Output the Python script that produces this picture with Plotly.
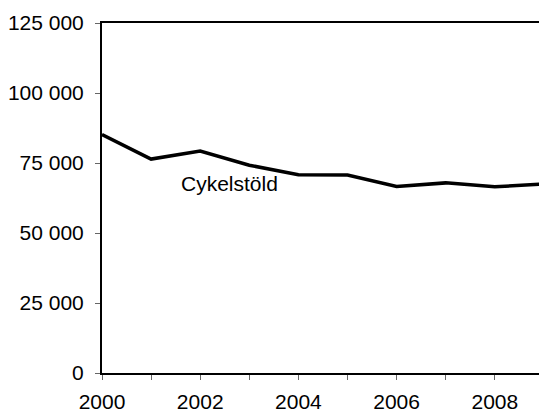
import plotly.graph_objects as go

years = [2000, 2001, 2002, 2003, 2004, 2005, 2006, 2007, 2008, 2009]
cykelstold = [85200, 76400, 79300, 74200, 70800, 70700, 66600, 67900, 66500, 67500]

y_ticks = [0, 25000, 50000, 75000, 100000, 125000]
y_ticklabels = ["0", "25 000", "50 000", "75 000", "100 000", "125 000"]
x_ticks = years
x_ticklabels = ["2000", "", "2002", "", "2004", "", "2006", "", "2008", ""]

FONT = "Liberation Sans, Arial"

fig = go.Figure()
fig.add_trace(go.Scatter(x=years, y=cykelstold, mode="lines",
                         line=dict(color="black", width=3.5), showlegend=False,
                         name="Cykelstöld", cliponaxis=True))
fig.add_annotation(x=2002.6, y=67700, text="Cykelstöld", showarrow=False,
                   font=dict(family=FONT, size=21, color="black"),
                   xanchor="center", yanchor="middle")

fig.update_layout(
    width=539, height=412,
    margin=dict(l=102, r=0, t=23, b=39),
    paper_bgcolor="white", plot_bgcolor="white",
    font=dict(family=FONT, size=21, color="black"),
    xaxis=dict(range=[2000, 2008.9], tickvals=x_ticks, ticktext=x_ticklabels,
               showgrid=False, zeroline=False, showline=True, linecolor="black",
               linewidth=2, mirror=True, ticks="outside", ticklen=5, tickwidth=1,
               tickcolor="#666666", ticklabelstandoff=4),
    yaxis=dict(range=[0, 125000], tickvals=y_ticks, ticktext=y_ticklabels,
               showgrid=False, zeroline=False, showline=True, linecolor="black",
               linewidth=2, ticks="outside", ticklen=5, tickwidth=1,
               tickcolor="#666666", ticklabelstandoff=7),
)
# remove the page's default body margin so the 539x412 figure fills the window
fig.write_html("out.html",
               config={"displayModeBar": False},
               post_script="document.body.style.margin='0';document.body.style.overflow='hidden';")
